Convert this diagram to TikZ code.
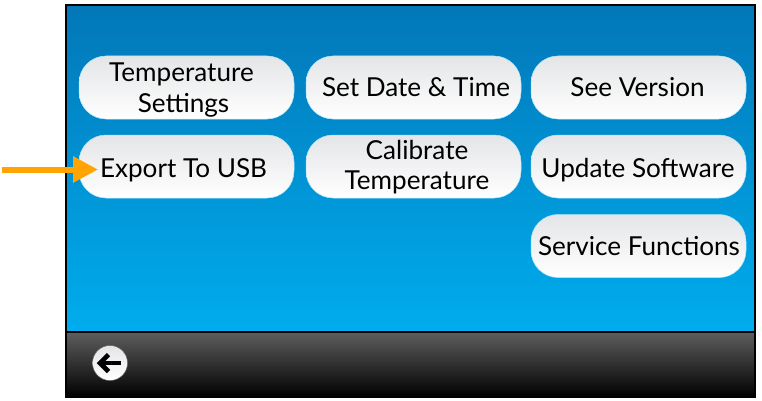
\documentclass[tikz,border=0pt]{standalone}
\usepackage{fontspec}
\setmainfont{Lato}
\definecolor{blueT}{HTML}{0277B8}
\definecolor{blueB}{HTML}{00ADEE}
\definecolor{barT}{HTML}{5E5E5E}
\definecolor{btnT}{HTML}{E4E5E7}
\definecolor{arrowC}{HTML}{FFA400}
\usetikzlibrary{arrows.meta}
\tikzset{
  x=1pt,y=-1pt,
  menubtn/.style={draw=white!70!blueB,line width=0.5pt,rounded corners=27pt,minimum width=215pt,minimum height=63pt,
    inner sep=0pt,top color=btnT,bottom color=white},
  btntext/.style={inner sep=0pt,align=center,text=black,font=\fontsize{26.1}{30.5}\selectfont},
  screen/.style={draw=black,line width=1.2pt,top color=blueT,bottom color=blueB},
  bar/.style={draw=black,line width=1.2pt,top color=barT,bottom color=black},
}
\begin{document}
\begin{tikzpicture}
\useasboundingbox (0,0) rectangle (762,401);
\path[screen] (66,5) rectangle (755,332);
\path[bar] (66,332) rectangle (755,397);
\node[menubtn] (temp) at (186.5,87.5) {};
\node[menubtn] (date) at (413.5,87.5) {};
\node[menubtn] (ver) at (638.5,87.5) {};
\node[menubtn] (usb) at (186.5,166.5) {};
\node[menubtn] (cal) at (413.5,166.5) {};
\node[menubtn] (upd) at (638.5,166.5) {};
\node[menubtn] (svc) at (638.5,246) {};
\node[btntext] (tTemp) at (181.5,90) {Temperature\\\hspace*{4pt}Settings};
\node[btntext] (tDate) at (416,87.5) {Set Date \& Time};
\node[btntext] (tVer) at (637.5,87.5) {See Version};
\node[btntext] (tUsb) at (183.5,170.5) {Export To USB};
\node[btntext] (tCal) at (417,167) {Calibrate\\Temperature};
\node[btntext] (tUpd) at (638,170.5) {Update Software};
\node[btntext] (tSvc) at (639,246.5) {Service Functions};
\node[circle,minimum size=35pt,inner sep=0pt,top color=btnT,bottom color=white,draw=black!60,line width=0.4pt] (back) at (110,363) {};
\draw[black,line width=4.6pt] (121,363) -- (101,363);
\draw[black,line width=4.6pt,line join=miter,miter limit=4] (108.5,354.5) -- (100,363) -- (108.5,371.5);
\coordinate (src) at (2,169.5);
\draw[arrowC,line width=6pt,-{Triangle[length=25pt,width=25pt]}] (src) -- (98,169.5);
\end{tikzpicture}
\end{document}
